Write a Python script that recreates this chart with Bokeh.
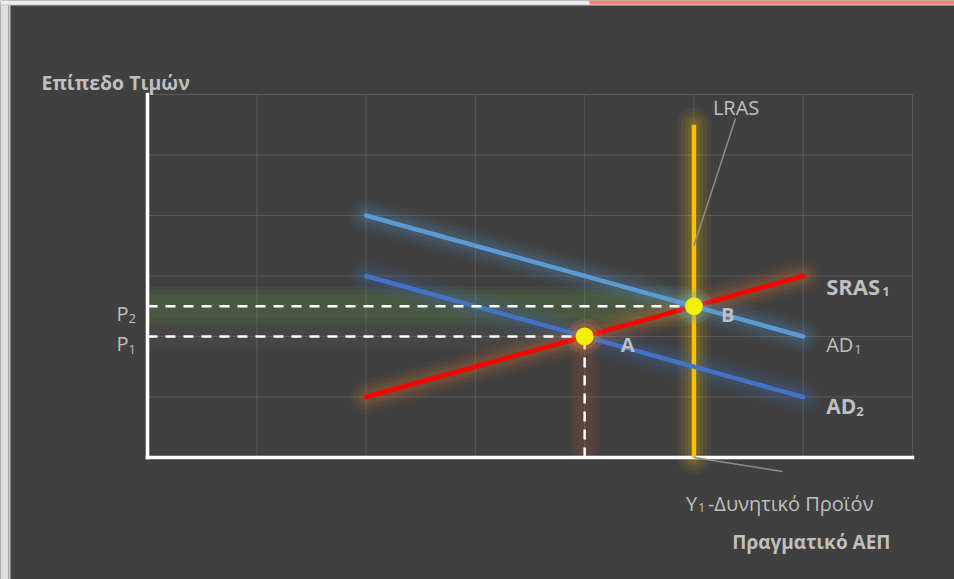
from bokeh.plotting import figure
from bokeh.models import Label
from bokeh.embed import file_html
from bokeh.resources import INLINE

# ---- data -------------------------------------------------------------
# curves on the output (x) / price level (y) plane
ad1_x, ad1_y = [2, 6], [4, 2]
ad2_x, ad2_y = [2, 6], [3, 1]
sras_x, sras_y = [2, 6], [1, 3]
lras_x, lras_y = [5, 5], [0, 5.5]

# equilibrium points
eq_names = ["A", "B"]
eq_x = [4, 5]
eq_y = [2, 2.5]

# price levels marked on the vertical axis (P1 at A, P2 at B)
price_subs = ["1", "2"]

# gridlines
grid_x = [1, 2, 3, 4, 5, 6, 7]
grid_y = [1, 2, 3, 4, 5, 6]
X_MAX, Y_MAX = 7, 6

# ---- layout -----------------------------------------------------------
W, H = 954, 579
LEFT, RIGHT, TOP, BOTTOM = 147, 912, 94, 457
UX = (RIGHT - LEFT) / X_MAX
UY = (BOTTOM - TOP) / Y_MAX


def sx(px):
    return (px - LEFT) / UX


def sy(py):
    return (BOTTOM - py) / UY


BG = "#404040"
GRID = "#595959"
TXT = "#BFBFBF"
FONT = "Open Sans"

p = figure(width=W, height=H, x_range=(sx(0), sx(W)), y_range=(sy(H), sy(0)),
           output_backend="svg", toolbar_location=None,
           x_axis_location=None, y_axis_location=None, min_border=0)
p.grid.visible = False
p.outline_line_color = None
p.background_fill_color = BG
p.border_fill_color = BG

# page edge: light frame on the left and top, accent strip at top right
p.quad(left=sx(0), right=sx(8), bottom=sy(H), top=sy(0), fill_color="#DEDEDE", line_color=None)
p.quad(left=sx(8), right=sx(10), bottom=sy(H), top=sy(0), fill_color="#C6C6C6", line_color=None)
p.quad(left=sx(0), right=sx(W), bottom=sy(5), top=sy(0), fill_color="#C6C6C6", line_color=None)
p.quad(left=sx(0), right=sx(W), bottom=sy(4), top=sy(0), fill_color="#EDEDED", line_color=None)
p.quad(left=sx(589), right=sx(W), bottom=sy(4), top=sy(0), fill_color="#F2826F", line_color=None)

# gridlines
p.segment(x0=grid_x, y0=[0] * len(grid_x), x1=grid_x, y1=[Y_MAX] * len(grid_x),
          line_color=GRID, line_width=1)
p.segment(x0=[0] * len(grid_y), y0=grid_y, x1=[X_MAX] * len(grid_y), y1=grid_y,
          line_color=GRID, line_width=1)


def glow(xs, ys, color, layers, cap="round"):
    for w, a in layers:
        p.line(xs, ys, line_color=color, line_width=w, line_alpha=a, line_cap=cap)


SOFT = ((34, 0.05), (26, 0.07), (18, 0.08), (12, 0.09))

# glows of the guide lines
glow([0, eq_x[1]], [eq_y[1], eq_y[1]], "#70AD47", ((40, 0.08), (32, 0.08), (24, 0.08)), cap="butt")
glow([0, eq_x[0]], [eq_y[0], eq_y[0]], "#FFFFFF", ((30, 0.02), (20, 0.02)), cap="butt")
glow([eq_x[0], eq_x[0]], [0, eq_y[0]], "#D0583A", ((30, 0.06), (22, 0.07), (14, 0.08)), cap="butt")

# glows of the curves
glow(lras_x, lras_y, "#FFC000", SOFT)
glow(ad1_x, ad1_y, "#5B9BD5", SOFT)
glow(ad2_x, ad2_y, "#4472C4", SOFT)
glow(sras_x, sras_y, "#ED7D31", SOFT)

# axes
p.segment(x0=[0, 0], y0=[0, 0], x1=[0, X_MAX], y1=[Y_MAX, 0],
          line_color="#FFFFFF", line_width=3.5, line_cap="square")

# curves
p.line(lras_x, lras_y, line_color="#FFC000", line_width=4.5, line_cap="butt")
p.line(ad1_x, ad1_y, line_color="#5B9BD5", line_width=4.5, line_cap="round")
p.line(ad2_x, ad2_y, line_color="#4472C4", line_width=4.5, line_cap="round")
p.line(sras_x, sras_y, line_color="#FF0000", line_width=4.5, line_cap="round")

# dashed guides to the price levels and to output at A
p.segment(x0=[0, 0, eq_x[0]], y0=[eq_y[0], eq_y[1], 0],
          x1=[eq_x[0], eq_x[1], eq_x[0]], y1=[eq_y[0], eq_y[1], eq_y[0]],
          line_color="#FFFFFF", line_width=2.5, line_dash="10 8")

# leader lines for LRAS and potential output
p.line([5, sx(735)], [3.5, sy(118)], line_color="#8C8C8C", line_width=1.5)
p.line([5, sx(782)], [0, sy(471)], line_color="#8C8C8C", line_width=1.5)

# equilibrium points
p.scatter([eq_x[0]], [eq_y[0]], size=36, fill_color="#ED7D31", fill_alpha=0.14, line_color=None)
p.scatter([eq_x[0]], [eq_y[0]], size=27, fill_color="#ED7D31", fill_alpha=0.2, line_color=None)
p.scatter([eq_x[1]], [eq_y[1]], size=36, fill_color="#4BACC6", fill_alpha=0.14, line_color=None)
p.scatter([eq_x[1]], [eq_y[1]], size=27, fill_color="#4BACC6", fill_alpha=0.2, line_color=None)
p.scatter(eq_x, eq_y, size=18, fill_color="#F0F000", line_color=None)


def note(x, y, text, dx, dy, size=20, bold=False, align="left"):
    p.add_layout(Label(x=x, y=y, text=text, x_offset=dx, y_offset=dy,
                       text_font=FONT, text_font_size=f"{size}px",
                       text_font_style="bold" if bold else "normal",
                       text_color=TXT, text_align=align, text_baseline="alphabetic"))


# axis titles
note(0, Y_MAX, "Επίπεδο Τιμών", -106, 12, size=19.5, bold=True)
note(X_MAX, 0, "Πραγματικό ΑΕΠ", -22, -84, size=19, bold=True, align="right")

# curve names
note(lras_x[1], lras_y[1], "LRAS", 19, 17)
note(sras_x[1], sras_y[1], "SRAS", 23, -9.5, size=22, bold=True)
note(sras_x[1], sras_y[1], "1", 79, -15, size=13, bold=True)
note(ad1_x[1], ad1_y[1], "AD", 23, -8)
note(ad1_x[1], ad1_y[1], "1", 51, -13, size=13)
note(ad2_x[1], ad2_y[1], "AD", 23, -8.5, size=21, bold=True)
note(ad2_x[1], ad2_y[1], "2", 53, -14.5, size=13, bold=True)

# equilibrium labels
note(eq_x[0], eq_y[0], eq_names[0], 36, -8, size=20, bold=True)
note(eq_x[1], eq_y[1], eq_names[1], 27, -8, size=20, bold=True)

# price levels
for yv, sub in zip(eq_y, price_subs):
    note(0, yv, "P", -31, -7)
    note(0, yv, sub, -19, -12.5, size=13)

# potential output
note(lras_x[0], 0, "Y", -8, -46)
note(lras_x[0], 0, "1", 4, -50, size=13)
note(lras_x[0], 0, "-Δυνητικό Προϊόν", 14, -46)

open("out.html", "w").write(file_html(p, INLINE))
